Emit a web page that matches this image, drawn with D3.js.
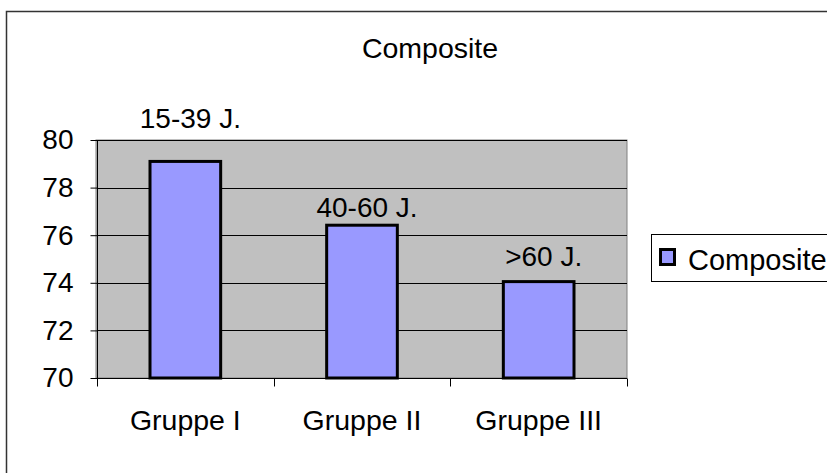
<!DOCTYPE html>
<html>
<head>
<meta charset="utf-8">
<script src="https://cdn.jsdelivr.net/npm/d3@7"></script>
<style>
  html, body { margin: 0; padding: 0; background: #fff; }
  svg { display: block; }
  text { font-family: Arial, "Liberation Sans", sans-serif; fill: #000; }
</style>
</head>
<body>
<script>
// Chart data
const categories = ["Gruppe I", "Gruppe II", "Gruppe III"];
const values = [79.1, 76.42, 74.05];
const barLabels = ["15-39 J.", "40-60 J.", ">60 J."];
const yTicks = [70, 72, 74, 76, 78, 80];
const seriesName = "Composite";
const chartTitle = "Composite";

const W = 827, H = 473;
const plot = { left: 97, right: 627, top: 140, bottom: 378 };
// vertical lift of each value label above its bar (px)
const labelLift = [33, 8, 16];
const FONT = "Arial, 'Liberation Sans', sans-serif";

const svg = d3.select("body").append("svg")
  .attr("width", W).attr("height", H);

// chart frame (continues past the window edges)
svg.append("rect")
  .attr("x", 6.5).attr("y", 11.5)
  .attr("width", W + 20).attr("height", H + 20)
  .attr("fill", "#fff").attr("stroke", "#333").attr("stroke-width", 1.5);

const x = d3.scaleBand().domain(categories).range([plot.left, plot.right]).padding(0);
const y = d3.scaleLinear().domain([70, 80]).range([plot.bottom, plot.top]);

// plot area
svg.append("rect")
  .attr("x", plot.left - 1).attr("y", plot.top)
  .attr("width", plot.right - plot.left + 1).attr("height", plot.bottom - plot.top)
  .attr("fill", "#c0c0c0").attr("stroke", "#808080").attr("stroke-width", 1);

// gridlines
svg.append("g").selectAll("line")
  .data(yTicks.filter(t => t > 70))
  .join("line")
  .attr("x1", plot.left).attr("x2", plot.right)
  .attr("y1", d => Math.round(y(d)) + 0.5).attr("y2", d => Math.round(y(d)) + 0.5)
  .attr("stroke", "#000").attr("stroke-width", 1);

// bars
const barW = x.bandwidth() * 0.4;
svg.append("g").selectAll("rect")
  .data(values)
  .join("rect")
  .attr("x", (d, i) => x(categories[i]) + (x.bandwidth() - barW) / 2)
  .attr("y", d => y(d))
  .attr("width", barW)
  .attr("height", d => y(70) - y(d))
  .attr("fill", "#9999ff")
  .attr("stroke", "#000").attr("stroke-width", 3);

// value labels
svg.append("g").selectAll("text")
  .data(values)
  .join("text")
  .attr("x", (d, i) => x(categories[i]) + x.bandwidth() / 2 + 5)
  .attr("y", (d, i) => y(d) - labelLift[i])
  .attr("text-anchor", "middle")
  .attr("font-size", 28)
  .text((d, i) => barLabels[i]);

// y axis
const yAxis = svg.append("g")
  .attr("transform", `translate(${plot.left + 0.5},0)`)
  .call(d3.axisLeft(y).tickValues(yTicks).tickSize(7).tickPadding(17).tickFormat(d3.format("d")));
yAxis.select(".domain").attr("d", `M0,${plot.top}V${plot.bottom + 8}`).attr("stroke", "#000");
yAxis.selectAll(".tick line").attr("stroke", "#000");
yAxis.selectAll(".tick text").attr("font-size", 28).attr("font-family", FONT).attr("fill", "#000");

// x axis
const xAxis = svg.append("g")
  .attr("transform", `translate(0,${plot.bottom + 0.5})`)
  .call(d3.axisBottom(x).tickSize(0).tickPadding(31));
xAxis.select(".domain").attr("d", `M${plot.left},0H${plot.right}`).attr("stroke", "#000");
xAxis.selectAll(".tick text").attr("font-size", 28.5).attr("font-family", FONT).attr("fill", "#000");
// category separators
xAxis.append("g").selectAll("line")
  .data([...categories.map(c => x(c)), plot.right])
  .join("line")
  .attr("x1", d => Math.round(d) + 0.5).attr("x2", d => Math.round(d) + 0.5)
  .attr("y1", 0).attr("y2", 8)
  .attr("stroke", "#000");

// title
svg.append("text")
  .attr("x", 430).attr("y", 58)
  .attr("text-anchor", "middle")
  .attr("font-size", 28.5)
  .text(chartTitle);

// legend
const lg = svg.append("g");
lg.append("rect")
  .attr("x", 651.5).attr("y", 234.5)
  .attr("width", 200).attr("height", 47)
  .attr("fill", "#fff").attr("stroke", "#000").attr("stroke-width", 1);
lg.append("rect")
  .attr("x", 660.5).attr("y", 249.5)
  .attr("width", 14).attr("height", 15)
  .attr("fill", "#9999ff").attr("stroke", "#000").attr("stroke-width", 3);
lg.append("text")
  .attr("x", 688).attr("y", 270)
  .attr("font-size", 29)
  .text(seriesName);
</script>
</body>
</html>
